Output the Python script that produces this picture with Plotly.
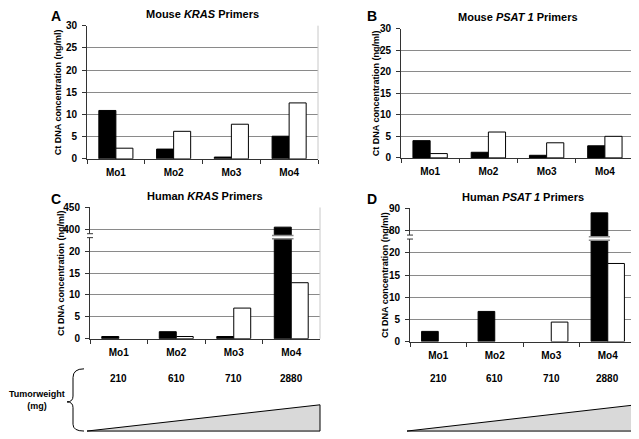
import plotly.graph_objects as go

# page body has an 8px margin, so the figure is sized to the visible area
OFF = 8
W, H = 639 - OFF, 439 - OFF

categories = ["Mo1", "Mo2", "Mo3", "Mo4"]
tumor_weight = [210, 610, 710, 2880]

# None = no bar drawn
mouse_kras_black = [10.9, 2.2, 0.4, 5.1]
mouse_kras_white = [2.4, 6.2, 7.8, 12.6]
mouse_psat_black = [4.0, 1.3, 0.6, 2.8]
mouse_psat_white = [1.0, 6.0, 3.5, 5.0]
human_kras_black = [0.5, 1.6, 0.5, 405]
human_kras_white = [None, 0.5, 7.0, 12.8]
human_psat_black = [2.3, 6.8, None, 88]
human_psat_white = [None, None, 4.4, 17.6]

# broken axes: 0-20 linear, then upper block mapped onto 25-30
kras_upper = (400, 450)
psat_upper = (80, 90)


def squash(vals, upper):
    lo, hi = upper
    out = []
    for v in vals:
        if v is None or v <= 20:
            out.append(v)
        else:
            out.append(25 + (v - lo) * 5 / (hi - lo))
    return out


def px(x):
    return (x - OFF) / W


def py(y):
    return 1 - (y - OFF) / H


FONT = "Liberation Sans, Arial, sans-serif"
GRID = "#8a8a8a"
BARGAP = 0.41

panels = [
    # letter, title, black, white, upper, x-domain px, y-domain px
    ("A", "Mouse <i>KRAS</i> Primers", mouse_kras_black, mouse_kras_white, None, (87, 318), (20, 157)),
    ("B", "Mouse <i>PSAT 1</i> Primers", mouse_psat_black, mouse_psat_white, None, (401, 634), (23, 156)),
    ("C", "Human <i>KRAS</i> Primers", human_kras_black, human_kras_white, kras_upper, (90, 320), (207, 342)),
    ("D", "Human <i>PSAT 1</i> Primers", human_psat_black, human_psat_white, psat_upper, (410, 636), (208, 345)),
]

fig = go.Figure()
annotations = []
shapes = []
layout_axes = {}

for i, (letter, title, black, white, upper, (x0, x1), (y0, y1)) in enumerate(panels):
    n = "" if i == 0 else str(i + 1)
    xa, ya = "x" + n, "y" + n
    if upper:
        bv, wv = squash(black, upper), squash(white, upper)
    else:
        bv, wv = black, white

    fig.add_trace(go.Bar(x=categories, y=bv, xaxis=xa, yaxis=ya, showlegend=False,
                         marker=dict(color="black", line=dict(color="black", width=1))))
    fig.add_trace(go.Bar(x=categories, y=wv, xaxis=xa, yaxis=ya, showlegend=False,
                         marker=dict(color="white", line=dict(color="black", width=1))))

    tickvals = [0, 5, 10, 15, 20, 25, 30]
    if upper:
        ticktext = ["0", "5", "10", "15", "20", str(upper[0]), str(upper[1])]
    else:
        ticktext = [str(v) for v in tickvals]

    layout_axes["xaxis" + n] = dict(
        domain=[px(x0), px(x1)], anchor=ya, type="category",
        showline=True, linecolor="#333", linewidth=1,
        ticks="outside", tickson="boundaries", ticklen=4, tickcolor="#333",
        tickfont=dict(size=10), ticklabelstandoff=4, showgrid=False,
    )
    layout_axes["yaxis" + n] = dict(
        domain=[py(y1), py(y0)], anchor=xa, range=[0, 30],
        tickvals=tickvals, ticktext=ticktext,
        showline=True, linecolor="#333", linewidth=1,
        ticks="outside", ticklen=4, tickcolor="#333",
        tickfont=dict(size=10), ticklabelstandoff=3,
        showgrid=True, gridcolor=GRID, gridwidth=1, zeroline=False,
    )

    # right border
    shapes.append(dict(type="line", xref="paper", yref="paper", x0=px(x1), x1=px(x1),
                       y0=py(y1), y1=py(y0), line=dict(color="#c8c8c8", width=1)))

    cx = (x0 + x1) / 2
    annotations.append(dict(text=title, x=px(cx), y=py(y0 - 12), xref="paper", yref="paper",
                            showarrow=False, font=dict(size=11), xanchor="center", yanchor="middle"))
    lx = 56 if i % 2 == 0 else 372
    ly = 10 if i < 2 else 198
    annotations.append(dict(text=letter, x=px(lx), y=py(ly), xref="paper", yref="paper",
                            showarrow=False, font=dict(size=14), xanchor="center", yanchor="middle"))
    tx = x0 - 29 if i % 2 == 0 else x0 - 25
    annotations.append(dict(text="Ct DNA concentration (ng/ml)", x=px(tx), y=py((y0 + y1) / 2),
                            xref="paper", yref="paper", textangle=-90, showarrow=False,
                            font=dict(size=9), xanchor="center", yanchor="middle"))

    if upper:
        # break on the tall bar
        w = (1 - BARGAP) / 2
        bx0, bx1 = 3 - w, 3
        lo_b, hi_b = 22.85, 23.6
        shapes.append(dict(type="rect", xref=xa, yref=ya, x0=bx0 - 0.02, x1=bx1 + 0.02,
                           y0=lo_b, y1=hi_b, fillcolor="white", line=dict(width=0), layer="above"))
        for yy in (lo_b, hi_b):
            shapes.append(dict(type="line", xref=xa, yref=ya, x0=bx0 - 0.04, x1=bx1 + 0.04,
                               y0=yy, y1=yy, line=dict(color="#8a8a8a", width=1.5), layer="above"))
        # break on the y axis
        shapes.append(dict(type="rect", xref="paper", yref=ya, x0=px(x0 - 1.5), x1=px(x0 + 1.5),
                           y0=23.1, y1=24.0, fillcolor="white", line=dict(width=0), layer="above"))
        for yy in (23.1, 24.0):
            shapes.append(dict(type="line", xref="paper", yref=ya, x0=px(x0 - 3), x1=px(x0 + 3),
                               y0=yy, y1=yy, line=dict(color="#333", width=1), layer="above"))

    if i >= 2:
        # tumour weight labels and ramp
        for c, tw in zip(categories, tumor_weight):
            annotations.append(dict(text=str(tw), x=c, y=py(383), xref=xa, yref="paper",
                                    showarrow=False, font=dict(size=10),
                                    xanchor="center", yanchor="middle"))
        shapes.append(dict(type="path", xref="paper", yref="paper",
                           path=f"M {px(x0 - 3)},{py(437)} L {px(x1)},{py(437)} L {px(x1)},{py(410)} Z",
                           fillcolor="#d9d9d9", line=dict(color="black", width=1)))

annotations.append(dict(text="Tumorweight<br>(mg)", x=px(37), y=py(405), xref="paper", yref="paper",
                        showarrow=False, font=dict(size=9), xanchor="center", yanchor="middle"))

brace = (f"M {px(84)},{py(373)} Q {px(73)},{py(373)} {px(73)},{py(382)} "
         f"L {px(73)},{py(401)} Q {px(73)},{py(407)} {px(67)},{py(407)} "
         f"Q {px(73)},{py(407)} {px(73)},{py(413)} "
         f"L {px(73)},{py(430)} Q {px(73)},{py(437)} {px(84)},{py(437)}")
shapes.append(dict(type="path", xref="paper", yref="paper", path=brace,
                   line=dict(color="black", width=1)))

fig.update_layout(
    width=W, height=H,
    margin=dict(l=0, r=0, t=0, b=0),
    paper_bgcolor="white", plot_bgcolor="white",
    font=dict(family=FONT, size=10, color="black", weight="bold"),
    barmode="group", bargap=BARGAP, bargroupgap=0,
    annotations=annotations, shapes=shapes,
    **layout_axes,
)

fig.write_html("out.html")
